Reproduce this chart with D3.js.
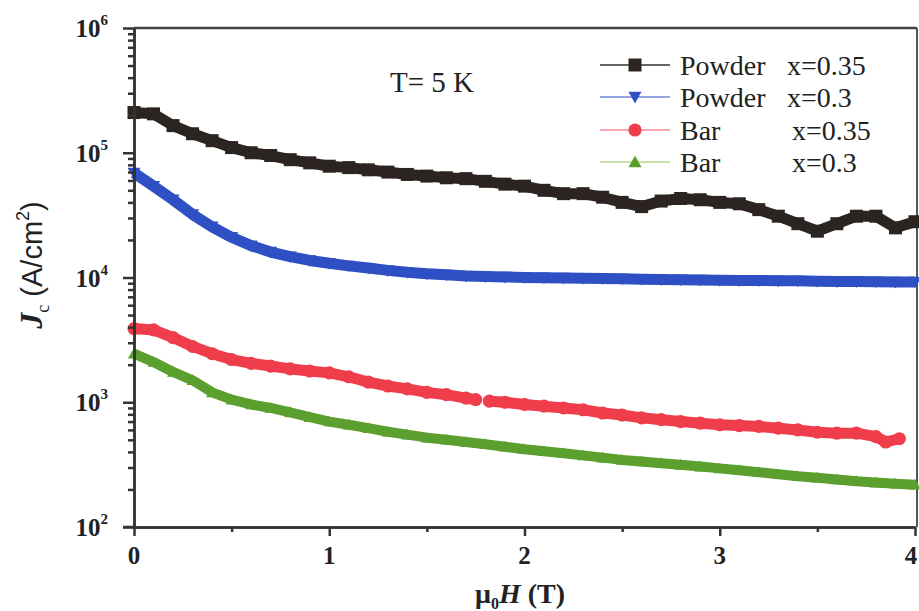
<!DOCTYPE html>
<html>
<head>
<meta charset="utf-8">
<script src="https://cdn.jsdelivr.net/npm/d3@7"></script>
<style>
  body { margin: 0; background: #fff; }
  svg { display: block; }
  text { fill: #222; }
</style>
</head>
<body>
<svg id="chart" width="919" height="611"></svg>
<script>
// field values (T)
const fieldA = [0, 0.1, 0.2, 0.3, 0.4, 0.5, 0.6, 0.7, 0.8, 0.9, 1.0, 1.1, 1.2, 1.3, 1.4, 1.5, 1.6, 1.7, 1.8, 1.9, 2.0,
  2.1, 2.2, 2.3, 2.4, 2.5, 2.6, 2.7, 2.8, 2.9, 3.0, 3.1, 3.2, 3.3, 3.4, 3.5, 3.6, 3.7, 3.8, 3.9, 4.0];
// Powder x=0.35
const powder035 = [2.1e5, 2.05e5, 1.65e5, 1.42e5, 1.25e5, 1.1e5, 1.0e5, 9.5e4, 8.8e4, 8.3e4, 7.8e4, 7.6e4, 7.3e4, 7.0e4,
  6.7e4, 6.5e4, 6.3e4, 6.2e4, 5.9e4, 5.6e4, 5.4e4, 5.0e4, 4.7e4, 4.7e4, 4.4e4, 4.0e4, 3.7e4, 4.1e4, 4.3e4, 4.2e4,
  4.0e4, 3.9e4, 3.5e4, 3.1e4, 2.7e4, 2.35e4, 2.7e4, 3.1e4, 3.1e4, 2.5e4, 2.8e4];
// Powder x=0.3
const powder03 = [6.9e4, 5.4e4, 4.2e4, 3.2e4, 2.55e4, 2.1e4, 1.8e4, 1.6e4, 1.47e4, 1.37e4, 1.3e4, 1.24e4, 1.19e4, 1.14e4,
  1.1e4, 1.07e4, 1.05e4, 1.03e4, 1.02e4, 1.01e4, 1.0e4, 9.95e3, 9.9e3, 9.85e3, 9.8e3, 9.75e3, 9.7e3, 9.65e3, 9.6e3, 9.55e3,
  9.5e3, 9.48e3, 9.45e3, 9.42e3, 9.4e3, 9.35e3, 9.3e3, 9.28e3, 9.25e3, 9.22e3, 9.2e3];
// Bar x=0.35 (gap near 1.78 T)
const fieldBar035 = [0, 0.1, 0.2, 0.3, 0.4, 0.5, 0.6, 0.7, 0.8, 0.9, 1.0, 1.1, 1.2, 1.3, 1.4, 1.5, 1.6, 1.7, 1.75,
  1.78, 1.82, 1.9, 2.0, 2.1, 2.2, 2.3, 2.4, 2.5, 2.6, 2.7, 2.8, 2.9, 3.0, 3.1, 3.2, 3.3, 3.4, 3.5, 3.6, 3.7, 3.8, 3.85, 3.92];
const bar035 = [3.9e3, 3.8e3, 3.3e3, 2.8e3, 2.45e3, 2.2e3, 2.05e3, 1.95e3, 1.85e3, 1.78e3, 1.72e3, 1.6e3, 1.45e3, 1.35e3,
  1.28e3, 1.2e3, 1.15e3, 1.08e3, 1.05e3, null, 1.02e3, 1.0e3, 960, 930, 900, 870, 820, 790, 750, 725, 700, 680, 660, 650,
  640, 620, 600, 575, 565, 565, 530, 480, 510];
// Bar x=0.3
const bar03 = [2.45e3, 2.1e3, 1.75e3, 1.5e3, 1.2e3, 1.05e3, 960, 900, 830, 760, 700, 660, 620, 580, 550, 520, 500, 480,
  460, 440, 420, 405, 390, 375, 360, 345, 335, 325, 315, 305, 295, 285, 275, 265, 255, 248, 240, 233, 227, 222, 218];

const seriesNames = ["Powder", "Powder", "Bar", "Bar"];
const seriesX = ["x=0.35", "x=0.3", "x=0.35", "x=0.3"];
const xTicks = [0, 1, 2, 3, 4];
const xMinor = [0.5, 1.5, 2.5, 3.5];
const yExp = [2, 3, 4, 5, 6];

const serif = "Liberation Serif, DejaVu Serif, serif";
const sans = "Liberation Sans, Arial, sans-serif";

const svg = d3.select("#chart");
const mLeft = 134, mRight = 915, mTop = 28, mBottom = 527;

const x = d3.scaleLinear().domain([0, 4]).range([mLeft, mRight]);
const y = d3.scaleLog().domain([1e2, 1e6]).range([mBottom, mTop]);

const series = [
  { x: fieldA, y: powder035, color: "#2b2420", legLine: "#333", sym: "square", w: 11 },
  { x: fieldA, y: powder03, color: "#2e50c4", legLine: "#6f86d6", sym: "triDown", w: 11 },
  { x: fieldBar035, y: bar035, color: "#ef3d4c", legLine: "#f08a98", sym: "circle", w: 11 },
  { x: fieldA, y: bar03, color: "#5b9f2e", legLine: "#b9d88a", sym: "triUp", w: 10 }
];

function symbolPath(sym, s) {
  if (sym === "square") return `M${-s/2},${-s/2}h${s}v${s}h${-s}Z`;
  if (sym === "triDown") return `M${-s/2},${-s*0.4}L${s/2},${-s*0.4}L0,${s*0.5}Z`;
  if (sym === "triUp") return `M${-s/2},${s*0.4}L${s/2},${s*0.4}L0,${-s*0.5}Z`;
  return d3.symbol(d3.symbolCircle, s * s * 0.8)();
}

// frame (top and right)
svg.append("line").attr("x1", mLeft).attr("x2", mRight + 2).attr("y1", mTop).attr("y2", mTop)
  .attr("stroke", "#444").attr("stroke-width", 2.5);
svg.append("line").attr("x1", mRight + 2).attr("x2", mRight + 2).attr("y1", mTop).attr("y2", mBottom)
  .attr("stroke", "#555").attr("stroke-width", 2);

// data
series.forEach(s => {
  const pts = s.x.map((v, i) => ({ x: v, y: s.y[i] }));
  const line = d3.line().defined(d => d.y != null).x(d => x(d.x)).y(d => y(d.y));
  svg.append("path").attr("d", line(pts)).attr("fill", "none")
    .attr("stroke", s.color).attr("stroke-width", s.w).attr("stroke-linejoin", "round");
  svg.append("g").selectAll("path").data(pts.filter(d => d.y != null)).join("path")
    .attr("transform", d => `translate(${x(d.x)},${y(d.y)})`)
    .attr("d", symbolPath(s.sym, s.w + 2))
    .attr("fill", s.color);
});

// axes
const axisColor = "#333";
function styleAxis(g) {
  g.select(".domain").attr("stroke", axisColor).attr("stroke-width", 2.5);
  g.selectAll(".tick line").attr("stroke", axisColor).attr("stroke-width", 2.5);
  g.selectAll(".tick text").remove();
}
svg.append("g").attr("transform", `translate(${mLeft},0)`)
  .call(d3.axisLeft(y).tickValues(yExp.map(e => Math.pow(10, e))).tickSize(11).tickSizeOuter(0))
  .call(styleAxis);
const minorY = [];
yExp.slice(0, -1).forEach(e => { for (let k = 2; k < 10; k++) minorY.push(k * Math.pow(10, e)); });
svg.append("g").attr("transform", `translate(${mLeft},0)`)
  .call(d3.axisLeft(y).tickValues(minorY).tickSize(6).tickSizeOuter(0))
  .call(styleAxis);
svg.append("g").attr("transform", `translate(0,${mBottom})`)
  .call(d3.axisBottom(x).tickValues(xTicks).tickSize(9).tickSizeOuter(0))
  .call(styleAxis);
svg.append("g").attr("transform", `translate(0,${mBottom})`)
  .call(d3.axisBottom(x).tickValues(xMinor).tickSize(5).tickSizeOuter(0))
  .call(styleAxis);
// extend axis line past the corner like the original
svg.append("line").attr("x1", mLeft - 11).attr("x2", mLeft).attr("y1", mBottom).attr("y2", mBottom)
  .attr("stroke", axisColor).attr("stroke-width", 2.5);

// tick labels
yExp.forEach(e => {
  const t = svg.append("text").attr("x", 108).attr("y", y(Math.pow(10, e)) + 9)
    .attr("text-anchor", "end").attr("font-family", serif).attr("font-size", 25).attr("font-weight", "bold");
  t.append("tspan").text("10");
  t.append("tspan").attr("font-size", 15).attr("dy", -12).text(e);
});
xTicks.forEach(v => {
  svg.append("text").attr("x", Math.min(x(v), 911)).attr("y", 564).attr("text-anchor", "middle")
    .attr("font-family", serif).attr("font-size", 25).attr("font-weight", "bold").text(v);
});

// axis titles
const xt = svg.append("text").attr("x", 520).attr("y", 603).attr("text-anchor", "middle")
  .attr("font-family", serif).attr("font-size", 28).attr("font-weight", "bold");
xt.append("tspan").text("\u03bc");
xt.append("tspan").attr("font-size", 16).attr("dy", 6).text("0");
xt.append("tspan").attr("dy", -6).attr("font-style", "italic").text("H");
xt.append("tspan").text(" (T)");

const yt = svg.append("text").attr("transform", "translate(42,265) rotate(-90)")
  .attr("text-anchor", "middle").attr("font-family", serif).attr("font-size", 32);
yt.append("tspan").attr("font-style", "italic").attr("font-weight", "bold").text("J");
yt.append("tspan").attr("font-size", 18).attr("dy", 7).text("c");
yt.append("tspan").attr("dy", -7).attr("font-family", sans).attr("font-size", 29).text(" (A/cm");
yt.append("tspan").attr("font-family", sans).attr("font-size", 18).attr("dy", -13).text("2");
yt.append("tspan").attr("dy", 13).attr("font-family", sans).attr("font-size", 29).text(")");

// annotation
svg.append("text").attr("x", 390).attr("y", 92).attr("font-family", serif).attr("font-size", 29).text("T= 5 K");

// legend
const legendRows = [65, 97, 130, 162];
series.forEach((s, i) => {
  const ly = legendRows[i];
  svg.append("line").attr("x1", 600).attr("x2", 670).attr("y1", ly).attr("y2", ly)
    .attr("stroke", s.legLine).attr("stroke-width", 1.5);
  svg.append("path").attr("transform", `translate(635,${ly})`)
    .attr("d", symbolPath(s.sym, 13)).attr("fill", s.color);
  svg.append("text").attr("x", 680).attr("y", ly + 10).attr("font-family", serif).attr("font-size", 28).text(seriesNames[i]);
  svg.append("text").attr("x", i < 2 ? 787 : 792).attr("y", ly + 10).attr("font-family", serif).attr("font-size", 28).text(seriesX[i]);
});
</script>
</body>
</html>
